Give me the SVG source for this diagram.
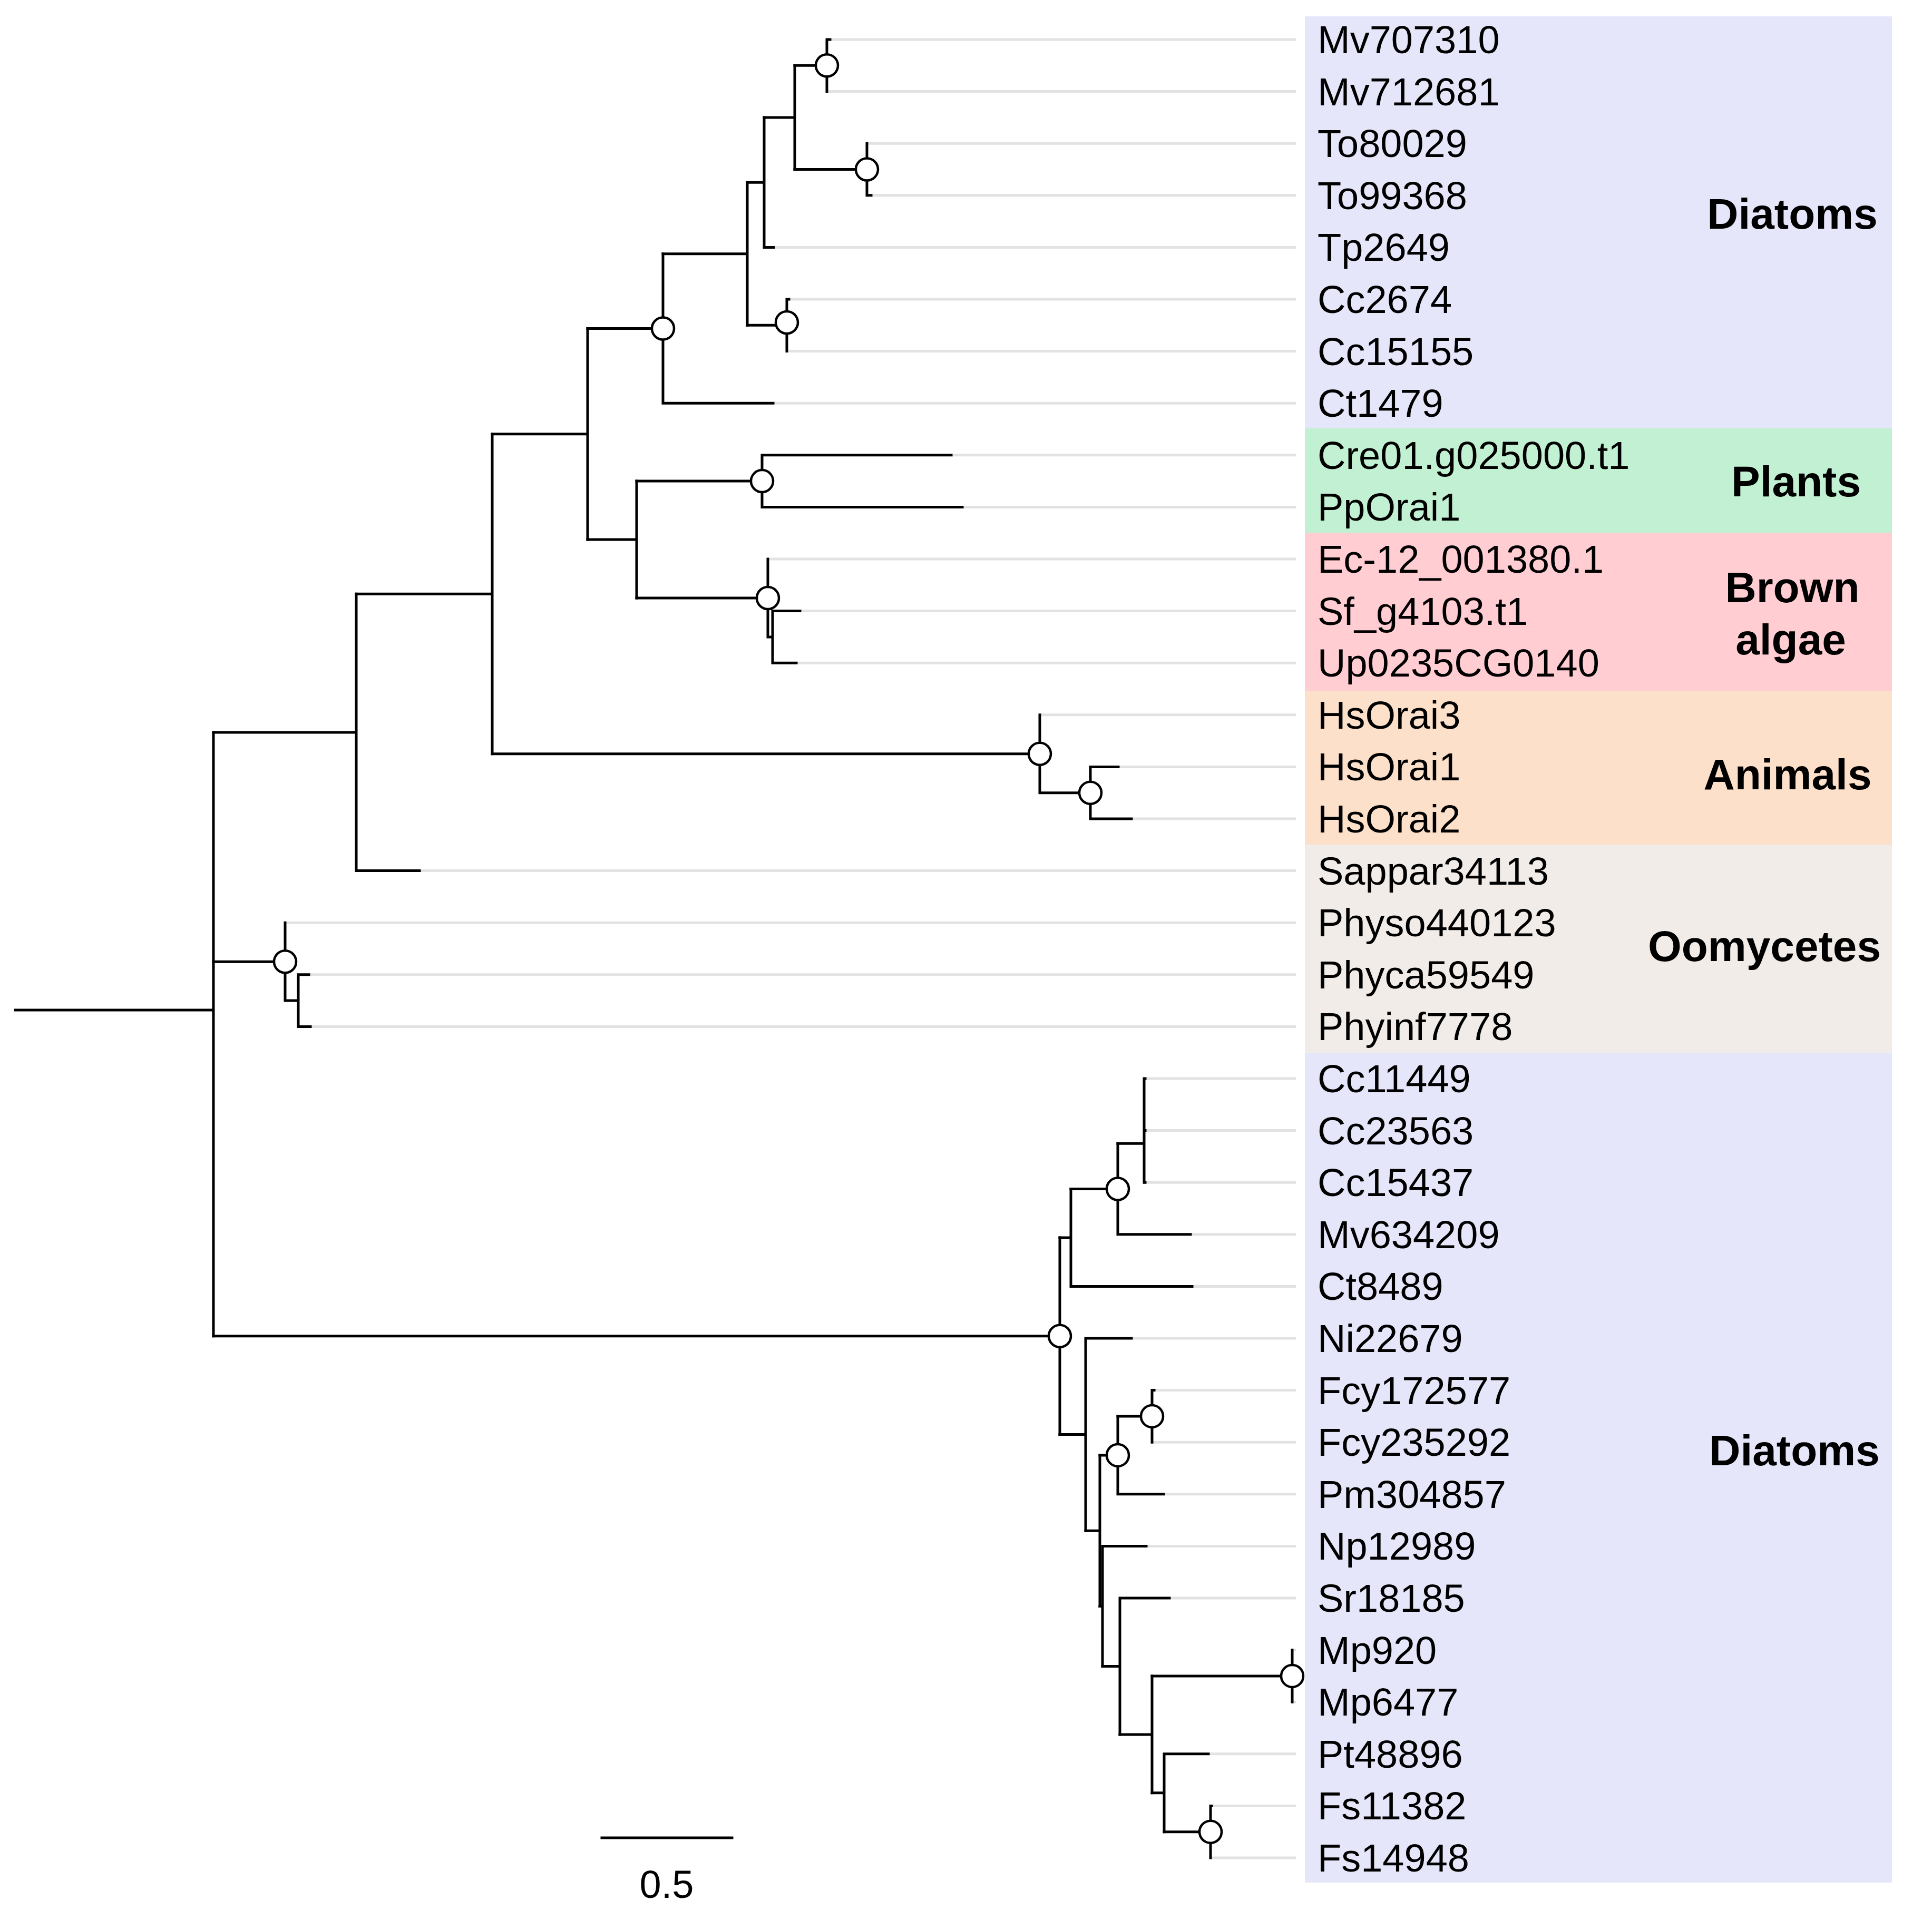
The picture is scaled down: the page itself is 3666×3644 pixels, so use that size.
<svg xmlns="http://www.w3.org/2000/svg" width="3666" height="3644" viewBox="0 0 3666 3644">
<style>
.br{fill:none;stroke:#000;stroke-width:5;stroke-linecap:square}
.ext{fill:none;stroke:#e2e2e2;stroke-width:5}
.bs{fill:#fff;stroke:#000;stroke-width:4.5}
.lb{font-family:"Liberation Sans",Arial,sans-serif;font-size:74px;fill:#000}
.gp{font-family:"Liberation Sans",Arial,sans-serif;font-size:82px;font-weight:bold;fill:#000;text-anchor:middle}
</style>
<rect width="3666" height="3644" fill="#fff"/>
<g id="clade-boxes">
<rect id="box-diatoms1" x="2476" y="31" width="1114" height="782" fill="#e6e6fa"/>
<rect id="box-plants" x="2476" y="813" width="1114" height="198" fill="#c2f0d2"/>
<rect id="box-brown" x="2476" y="1011" width="1114" height="300" fill="#ffcdd2"/>
<rect id="box-animals" x="2476" y="1311" width="1114" height="292" fill="#fde0ca"/>
<rect id="box-oomycetes" x="2476" y="1603" width="1114" height="395" fill="#f1ece8"/>
<rect id="box-diatoms2" x="2476" y="1998" width="1114" height="1575" fill="#e6e6fa"/>
</g>
<g id="extensions" class="ext">
<path d="M1575 75H2459M1569 173.6H2459M1645 272.2H2459M1653 370.8H2459M1468 469.4H2459M1497 568H2459M1493 666.6H2459M1467 765.2H2459M1805 863.8H2459M1826 962.4H2459M1457 1061H2459M1518 1159.6H2459M1511 1258.2H2459M1973 1356.8H2459M2122 1455.4H2459M2147 1554H2459M796 1652.6H2459M541 1751.2H2459M586 1849.8H2459M589 1948.4H2459M2173 2047H2459M2173 2145.6H2459M2173 2244.2H2459M2259 2342.8H2459M2262 2441.4H2459M2147 2540H2459M2190 2638.6H2459M2186 2737.2H2459M2208 2835.8H2459M2175 2934.4H2459M2219 3033H2459M2452 3131.6H2459M2452 3230.2H2459M2293 3328.8H2459M2299 3427.4H2459M2297 3526H2459"/>
</g>
<g id="connectors" class="br">
<path d="M29 1917H405M405 1390V2535.8"/>
<path d="M405 1390H676M676 1127.3V1652.6M676 1652.6H796"/>
<path d="M676 1127.3H934M934 823.8V1430.8"/>
<path d="M934 823.8H1115M1115 623.5V1024"/>
<path d="M1115 623.5H1258M1258 481.7V765.2M1258 765.2H1467"/>
<path d="M1258 481.7H1418M1418 346.15V617.3"/>
<path d="M1418 617.3H1493M1493 568V666.6M1493 568H1497"/>
<path d="M1418 346.15H1450M1450 222.9V469.4M1450 469.4H1468"/>
<path d="M1450 222.9H1508M1508 124.3V321.5"/>
<path d="M1508 124.3H1569M1569 75V173.6M1569 75H1575"/>
<path d="M1508 321.5H1645M1645 272.2V370.8M1645 370.8H1653"/>
<path d="M1115 1024H1208M1208 913.1V1135"/>
<path d="M1208 913.1H1446M1446 863.8V962.4M1446 863.8H1805M1446 962.4H1826"/>
<path d="M1208 1135H1457M1457 1061V1208.9M1457 1208.9H1466M1466 1159.6V1258.2M1466 1159.6H1518M1466 1258.2H1511"/>
<path d="M934 1430.8H1973M1973 1356.8V1504.7M1973 1504.7H2069M2069 1455.4V1554M2069 1455.4H2122M2069 1554H2147"/>
<path d="M405 1825.2H541M541 1751.2V1899.1M541 1899.1H566M566 1849.8V1948.4M566 1849.8H586M566 1948.4H589"/>
<path d="M405 2535.8H2011M2011 2349V2722.6"/>
<path d="M2011 2349H2032M2032 2256.5V2441.4M2032 2441.4H2262"/>
<path d="M2032 2256.5H2121M2121 2170.3V2342.8M2121 2342.8H2259"/>
<path d="M2121 2170.3H2171M2171 2047V2244.2M2171 2047H2173M2171 2145.6H2173M2171 2244.2H2173"/>
<path d="M2011 2722.6H2060M2060 2540V2905.2M2060 2540H2147"/>
<path d="M2060 2905.2H2087M2087 2761.9V3048.4"/>
<path d="M2087 2761.9H2121M2121 2687.9V2835.8M2121 2835.8H2208"/>
<path d="M2121 2687.9H2186M2186 2638.6V2737.2M2186 2638.6H2190"/>
<path d="M2087 3048.4H2092M2092 2934.4V3162.4M2092 2934.4H2175"/>
<path d="M2092 3162.4H2125M2125 3033V3291.9M2125 3033H2219"/>
<path d="M2125 3291.9H2186M2186 3180.9V3402.8"/>
<path d="M2186 3180.9H2452M2452 3131.6V3230.2"/>
<path d="M2186 3402.8H2209M2209 3328.8V3476.7M2209 3328.8H2293"/>
<path d="M2209 3476.7H2297M2297 3427.4V3526M2297 3427.4H2299"/>
</g>
<g id="bootstrap-nodes" class="bs">
<circle id="n-mv" cx="1569" cy="124.3" r="21"/>
<circle id="n-to" cx="1645" cy="321.5" r="21"/>
<circle id="n-cc" cx="1493" cy="612" r="21"/>
<circle id="n-dia1" cx="1258" cy="623.5" r="21"/>
<circle id="n-plants" cx="1446" cy="913.1" r="21"/>
<circle id="n-brown" cx="1457" cy="1135" r="21"/>
<circle id="n-animals" cx="1973" cy="1430.8" r="21"/>
<circle id="n-hs12" cx="2069" cy="1504.7" r="21"/>
<circle id="n-oomy" cx="541" cy="1825.2" r="21"/>
<circle id="n-dia2" cx="2011" cy="2535.8" r="21"/>
<circle id="n-cc2" cx="2121" cy="2256.5" r="21"/>
<circle id="n-fcy" cx="2186" cy="2687.9" r="21"/>
<circle id="n-fcypm" cx="2121" cy="2761.9" r="21"/>
<circle id="n-mp" cx="2452" cy="3180.9" r="21"/>
<circle id="n-fs" cx="2297" cy="3476.7" r="21"/>
</g>
<g id="leaf-labels" class="lb">
<text x="2500" y="101">Mv707310</text>
<text x="2500" y="199.6">Mv712681</text>
<text x="2500" y="298.2">To80029</text>
<text x="2500" y="396.8">To99368</text>
<text x="2500" y="495.4">Tp2649</text>
<text x="2500" y="594">Cc2674</text>
<text x="2500" y="692.6">Cc15155</text>
<text x="2500" y="791.2">Ct1479</text>
<text x="2500" y="889.8">Cre01.g025000.t1</text>
<text x="2500" y="988.4">PpOrai1</text>
<text x="2500" y="1087">Ec-12_001380.1</text>
<text x="2500" y="1185.6">Sf_g4103.t1</text>
<text x="2500" y="1284.2">Up0235CG0140</text>
<text x="2500" y="1382.8">HsOrai3</text>
<text x="2500" y="1481.4">HsOrai1</text>
<text x="2500" y="1580">HsOrai2</text>
<text x="2500" y="1678.6">Sappar34113</text>
<text x="2500" y="1777.2">Physo440123</text>
<text x="2500" y="1875.8">Phyca59549</text>
<text x="2500" y="1974.4">Phyinf7778</text>
<text x="2500" y="2073">Cc11449</text>
<text x="2500" y="2171.6">Cc23563</text>
<text x="2500" y="2270.2">Cc15437</text>
<text x="2500" y="2368.8">Mv634209</text>
<text x="2500" y="2467.4">Ct8489</text>
<text x="2500" y="2566">Ni22679</text>
<text x="2500" y="2664.6">Fcy172577</text>
<text x="2500" y="2763.2">Fcy235292</text>
<text x="2500" y="2861.8">Pm304857</text>
<text x="2500" y="2960.4">Np12989</text>
<text x="2500" y="3059">Sr18185</text>
<text x="2500" y="3157.6">Mp920</text>
<text x="2500" y="3256.2">Mp6477</text>
<text x="2500" y="3354.8">Pt48896</text>
<text x="2500" y="3453.4">Fs11382</text>
<text x="2500" y="3552">Fs14948</text>
</g>
<g id="group-labels" class="gp">
<text x="3401" y="434">Diatoms</text>
<text x="3408" y="942">Plants</text>
<text x="3401" y="1143">Brown</text>
<text x="3398" y="1242">algae</text>
<text x="3392" y="1498">Animals</text>
<text x="3348" y="1824">Oomycetes</text>
<text x="3405" y="2781">Diatoms</text>
</g>
<g id="scale-bar">
<path class="br" d="M1142 3488H1389"/>
<text class="lb" x="1265" y="3602" text-anchor="middle">0.5</text>
</g>
</svg>
